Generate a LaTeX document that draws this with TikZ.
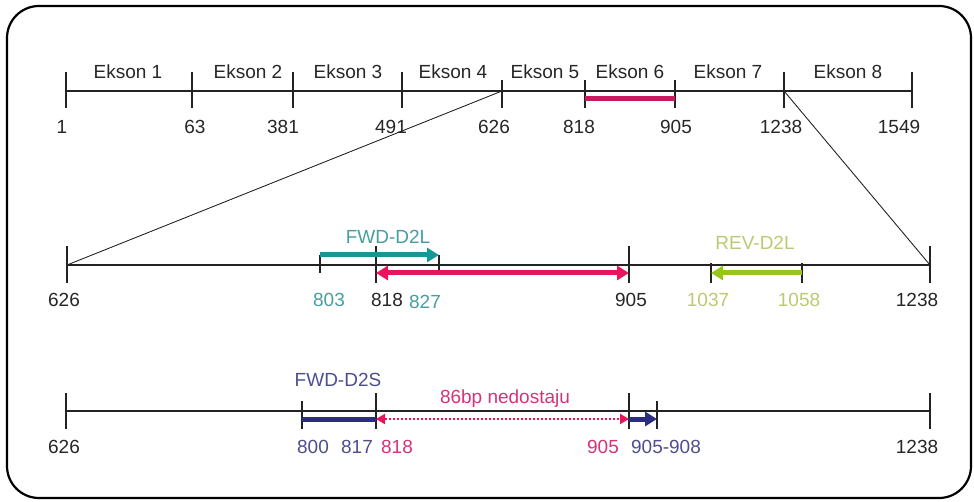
\documentclass[tikz,border=0pt]{standalone}
\usepackage{fontspec}
\setmainfont{Liberation Sans}
\usetikzlibrary{arrows.meta}
\definecolor{pinkc}{RGB}{228,22,94}
\definecolor{pinkbar}{RGB}{200,26,92}
\definecolor{tealc}{RGB}{24,150,150}
\definecolor{tealt}{RGB}{72,158,158}
\definecolor{greenc}{RGB}{152,196,30}
\definecolor{greent}{RGB}{186,202,112}
\definecolor{navyc}{RGB}{44,44,128}
\definecolor{navyt}{RGB}{78,78,142}
\definecolor{pinkt}{RGB}{214,50,122}
\definecolor{axisc}{RGB}{35,35,35}
\begin{document}
\begin{tikzpicture}[x=1pt,y=-1pt,
  lbl/.style={font=\fontsize{19}{21}\selectfont, inner sep=0pt, anchor=center, text=black!85},
  axline/.style={draw=axisc, line width=1.2pt},
  tk/.style={draw=axisc, line width=1.2pt},
  thickarr/.style={line width=5pt, -{Triangle[length=12pt,width=14pt]}},
  dbl/.style={line width=5pt, {Triangle[length=12pt,width=14pt]}-{Triangle[length=12pt,width=14pt]}},
  diag/.style={draw=axisc, line width=0.9pt}]
\useasboundingbox (0,0) rectangle (974,502);
\draw[line width=2.2pt, rounded corners=32pt] (7,6) rectangle (971,498);

% ---------- top row ----------
\coordinate (a1) at (66,91);
\coordinate (a63) at (192,91);
\coordinate (a381) at (293,91);
\coordinate (a491) at (402,91);
\coordinate (a626) at (502,91);
\coordinate (a818) at (585,99);
\coordinate (a905) at (675,99);
\coordinate (a1238) at (784,91);
\coordinate (a1549) at (912,91);
\draw[axline] (a1) -- (a1549);
\foreach \x in {66,192,293,402,784,912} \draw[tk] (\x,72) -- (\x,108);
\foreach \x in {502,585,675} \draw[tk] (\x,80) -- (\x,108);
\draw[pinkbar, line width=5pt] (a818) -- (a905);

\node[lbl] (e1) at (128,72) {Ekson 1};
\node[lbl] (e2) at (248,72) {Ekson 2};
\node[lbl] (e3) at (348,72) {Ekson 3};
\node[lbl] (e4) at (453,72) {Ekson 4};
\node[lbl] (e5) at (545,72) {Ekson 5};
\node[lbl] (e6) at (630,72) {Ekson 6};
\node[lbl] (e7) at (728,72) {Ekson 7};
\node[lbl] (e8) at (848,72) {Ekson 8};

\node[lbl] (n1) at (62,127) {1};
\node[lbl] (n63) at (195,127) {63};
\node[lbl] (n381) at (283,127) {381};
\node[lbl] (n491) at (391,127) {491};
\node[lbl] (n626) at (494,127) {626};
\node[lbl] (n818) at (579,127) {818};
\node[lbl] (n905) at (676,127) {905};
\node[lbl] (n1238) at (781,127) {1238};
\node[lbl] (n1549) at (899,127) {1549};

% ---------- middle row ----------
\coordinate (b626) at (67,265);
\coordinate (b1238) at (930,265);
\draw[axline] (b626) -- (b1238);
\draw[diag] (a626) -- (b626);
\draw[diag] (a1238) -- (b1238);
\foreach \x in {67,376,629,930} \draw[tk] (\x,246) -- (\x,283);
\foreach \x in {320,439} \draw[tk] (\x,255) -- (\x,273);
\foreach \x in {711,802} \draw[tk] (\x,263) -- (\x,283);

\coordinate (fl1) at (320,255);
\coordinate (fl2) at (439,255);
\coordinate (pk1) at (376,273);
\coordinate (pk2) at (629,273);
\coordinate (rv1) at (802,273);
\coordinate (rv2) at (711,273);
\draw[thickarr, draw=tealc, fill=tealc] (fl1) -- (fl2);
\draw[dbl, draw=pinkc, fill=pinkc] (pk1) -- (pk2);
\draw[thickarr, draw=greenc, fill=greenc] (rv1) -- (rv2);

\node[lbl, text=tealt] (fwdl) at (388,237) {FWD-D2L};
\node[lbl, text=greent] (revl) at (755,243) {REV-D2L};

\node[lbl] (m626) at (64,300) {626};
\node[lbl, text=tealt] (m803) at (329,300) {803};
\node[lbl] (m818) at (387,300) {818};
\node[lbl, text=tealt] (m827) at (425,302) {827};
\node[lbl] (m905) at (631,300) {905};
\node[lbl, text=greent] (m1037) at (708,300) {1037};
\node[lbl, text=greent] (m1058) at (799,300) {1058};
\node[lbl] (m1238) at (917,300) {1238};

% ---------- bottom row ----------
\coordinate (c626) at (66,411);
\coordinate (c1238) at (930,411);
\draw[axline] (c626) -- (c1238);
\foreach \x in {66,376,629,930} \draw[tk] (\x,393) -- (\x,429);
\foreach \x in {302,657} \draw[tk] (\x,401) -- (\x,429);

\coordinate (nv1) at (302,419);
\coordinate (nv2) at (376,419);
\coordinate (nv3) at (629,419);
\coordinate (nv4) at (657,419);
\draw[navyc, line width=5pt] (nv1) -- (nv2);
\draw[pinkc, line width=2pt, dotted, {Triangle[length=9pt,width=10pt]}-{Triangle[length=9pt,width=10pt]}] (nv2) -- (nv3);
\draw[thickarr, draw=navyc, fill=navyc] (nv3) -- (nv4);

\node[lbl, text=navyt] (fwds) at (338,380) {FWD-D2S};
\node[lbl, text=pinkt] (gap) at (505,399) {86bp nedostaju};

\node[lbl] (k626) at (64,447) {626};
\node[lbl, text=navyt] (k800) at (313,447) {800};
\node[lbl, text=navyt] (k817) at (357,447) {817};
\node[lbl, text=pinkt] (k818) at (397,447) {818};
\node[lbl, text=pinkt] (k905) at (603,447) {905};
\node[lbl, text=navyt] (k908) at (666,447) {905-908};
\node[lbl] (k1238) at (917,447) {1238};
\end{tikzpicture}
\end{document}
